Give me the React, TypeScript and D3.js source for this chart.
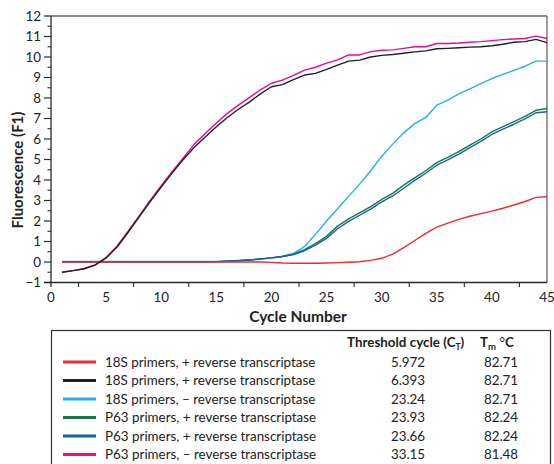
import React from 'react'
import * as d3 from 'd3'

// cycle numbers (x) and fluorescence readings per series
const cycles = [1,2,3,4,5,6,7,8,9,10,11,12,13,14,15,16,17,18,19,20,21,22,23,24,25,26,27,28,29,30,31,32,33,34,35,36,37,38,39,40,41,42,43,44,45]

const redSeries = [0,0,0,0,0,0,0,0,0,0,0,0,0,0,0,0,0,0,0,-0.02,-0.05,-0.06,-0.06,-0.06,-0.05,-0.03,-0.01,0.01,0.08,0.18,0.38,0.7,1.05,1.4,1.7,1.9,2.08,2.23,2.36,2.48,2.62,2.78,2.95,3.15,3.18]
const blackSeries = [-0.5,-0.42,-0.33,-0.15,0.2,0.73,1.45,2.2,2.95,3.65,4.35,5.0,5.6,6.1,6.6,7.05,7.45,7.8,8.2,8.55,8.65,8.9,9.12,9.2,9.4,9.6,9.8,9.85,10.0,10.08,10.12,10.18,10.25,10.3,10.4,10.42,10.45,10.48,10.5,10.55,10.62,10.72,10.75,10.86,10.7]
const cyanSeries = [0.03,0.03,0.03,0.03,0.03,0.03,0.03,0.03,0.03,0.03,0.03,0.03,0.03,0.03,0.03,0.05,0.07,0.1,0.13,0.2,0.28,0.42,0.75,1.35,2.0,2.6,3.2,3.8,4.45,5.15,5.75,6.3,6.75,7.05,7.65,7.9,8.2,8.45,8.7,8.95,9.15,9.35,9.55,9.8,9.8]
const greenSeries = [0.01,0.01,0.01,0.01,0.01,0.01,0.01,0.01,0.01,0.01,0.01,0.01,0.01,0.01,0.02,0.04,0.06,0.1,0.15,0.2,0.27,0.38,0.6,0.9,1.25,1.75,2.1,2.4,2.7,3.05,3.35,3.75,4.1,4.45,4.85,5.1,5.38,5.7,6.0,6.35,6.6,6.85,7.1,7.4,7.49]
const blueSeries = [0.01,0.01,0.01,0.01,0.01,0.01,0.01,0.01,0.01,0.01,0.01,0.01,0.01,0.01,0.02,0.04,0.06,0.1,0.15,0.2,0.27,0.36,0.55,0.82,1.15,1.62,1.98,2.28,2.58,2.93,3.22,3.6,3.98,4.33,4.72,4.98,5.26,5.58,5.88,6.22,6.48,6.72,6.98,7.28,7.33]
const magentaSeries = [-0.5,-0.42,-0.33,-0.14,0.22,0.78,1.5,2.25,3.0,3.72,4.42,5.08,5.75,6.27,6.78,7.25,7.65,8.02,8.4,8.72,8.87,9.1,9.36,9.5,9.7,9.86,10.1,10.1,10.26,10.33,10.35,10.42,10.5,10.5,10.66,10.66,10.68,10.72,10.75,10.8,10.85,10.88,10.9,11.02,10.9]

const legendLabels = [
  '18S primers, + reverse transcriptase',
  '18S primers, + reverse transcriptase',
  '18S primers, \u2013 reverse transcriptase',
  'P63 primers, + reverse transcriptase',
  'P63 primers, + reverse transcriptase',
  'P63 primers, \u2013 reverse transcriptase',
]
const thresholds = ['5.972', '6.393', '23.24', '23.93', '23.66', '33.15']
const meltTemps = ['82.71', '82.71', '82.71', '82.24', '82.24', '81.48']
const colors = ['#ee2b2f', '#231f20', '#21b2ec', '#127a48', '#1b5fa9', '#ec0a8f']
const seriesList = [redSeries, blackSeries, cyanSeries, greenSeries, blueSeries, magentaSeries]
const drawOrder = [2, 3, 4, 0, 5, 1]

const yTicks = d3.range(-1, 13)
const xTicks = d3.range(0, 46, 5)

const font = 'Lato, "Open Sans", sans-serif'

export default function App() {
  const x = d3.scaleLinear().domain([0, 45]).range([51, 547])
  const y = d3.scaleLinear().domain([-1, 12]).range([282.5, 16])
  const line = d3.line<number>()
    .x((d, i) => x(cycles[i]))
    .y(d => y(d))

  const axisColor = '#2b2b2b'
  const frameColor = '#666'
  const fs = 13.4

  return (
    <svg width={554} height={464} style={{position: 'absolute', left: 0, top: 0}} fontFamily={font}>
      <rect width={554} height={464} fill="#fff" />
      {/* frame */}
      <line x1={x(0)} x2={x(45)} y1={y(12)} y2={y(12)} stroke={frameColor} strokeWidth={1.3} />
      <line x1={x(45)} x2={x(45)} y1={y(12)} y2={y(-1)} stroke={frameColor} strokeWidth={1.3} />

      {/* series */}
      {drawOrder.map(i => (
        <path key={i} d={line(seriesList[i]) || ''} fill="none" stroke={colors[i]} strokeWidth={1.4} strokeLinejoin="round" />
      ))}

      {/* y axis */}
      <line x1={x(0)} x2={x(0)} y1={y(12)} y2={y(-1) + 4.5} stroke={axisColor} strokeWidth={1.3} />
      {yTicks.map(t => (
        <g key={t}>
          <line x1={x(0) - 7} x2={x(0)} y1={y(t)} y2={y(t)} stroke={axisColor} strokeWidth={1.2} />
          {t < 12 && <line x1={x(0) - 3.5} x2={x(0)} y1={y(t + 0.5)} y2={y(t + 0.5)} stroke={axisColor} strokeWidth={1.1} />}
          <text x={x(0) - 10} y={y(t)} dy="0.36em" textAnchor="end" fontSize={13.4} fill="#222">
            {t < 0 ? '\u2212' + Math.abs(t) : t}
          </text>
        </g>
      ))}

      {/* x axis */}
      <line x1={x(0) - 7} x2={x(45)} y1={y(-1)} y2={y(-1)} stroke={axisColor} strokeWidth={1.3} />
      {xTicks.map(t => (
        <g key={t}>
          {t < 45 && <line x1={x(t + 2.5)} x2={x(t + 2.5)} y1={y(-1)} y2={y(-1) + 4.5} stroke={axisColor} strokeWidth={1.1} />}
          <text x={x(t)} y={301.5} textAnchor="middle" fontSize={13.4} fill="#222">{t}</text>
        </g>
      ))}

      {/* axis titles */}
      <text x={298} y={322} textAnchor="middle" fontSize={15.5} fontWeight="bold" fill="#222">Cycle Number</text>
      <text transform="translate(23,170) rotate(-90)" textAnchor="middle" fontSize={15} fontWeight="bold" fill="#222">Fluorescence (F1)</text>

      {/* legend table */}
      <rect x={51.5} y={330.5} width={499} height={140} fill="none" stroke="#333" strokeWidth={1.2} />
      <text x={347} y={347} fontSize={fs} fontWeight="bold" fill="#222">
        Threshold cycle (C<tspan fontSize={8.5} dy={3}>T</tspan><tspan dy={-3}>)</tspan>
      </text>
      <text x={480} y={347} fontSize={fs} fontWeight="bold" fill="#222">
        T<tspan fontSize={9.5} dy={3}>m</tspan><tspan dy={-3} fontWeight="normal"> °</tspan>C
      </text>
      {legendLabels.map((label, i) => {
        const cy = 362 + i * 18.5
        return (
          <g key={i}>
            <line x1={63} x2={96} y1={cy} y2={cy} stroke={colors[i]} strokeWidth={3} />
            <text x={105} y={cy} dy="0.36em" fontSize={fs} fill="#222">{label}</text>
            <text x={408} y={cy} dy="0.36em" textAnchor="middle" fontSize={fs} fill="#222">{thresholds[i]}</text>
            <text x={501} y={cy} dy="0.36em" textAnchor="middle" fontSize={fs} fill="#222">{meltTemps[i]}</text>
          </g>
        )
      })}
    </svg>
  )
}
